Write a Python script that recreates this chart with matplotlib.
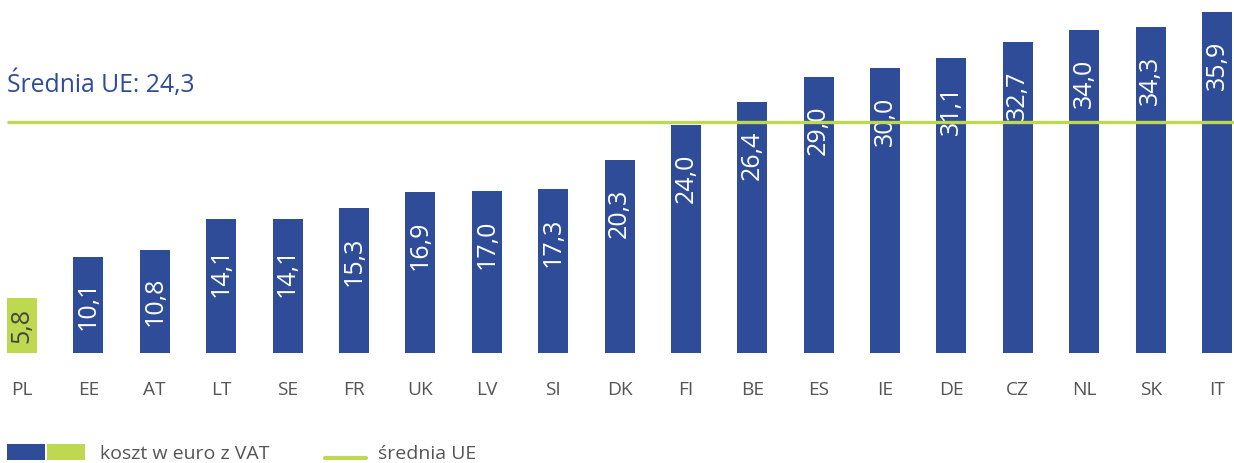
import matplotlib
matplotlib.use("Agg")
import matplotlib.pyplot as plt
from matplotlib.patches import Rectangle
from matplotlib.lines import Line2D

countries = ["PL", "EE", "AT", "LT", "SE", "FR", "UK", "LV", "SI", "DK",
             "FI", "BE", "ES", "IE", "DE", "CZ", "NL", "SK", "IT"]
values = [5.8, 10.1, 10.8, 14.1, 14.1, 15.3, 16.9, 17.0, 17.3, 20.3,
          24.0, 26.4, 29.0, 30.0, 31.1, 32.7, 34.0, 34.3, 35.9]
eu_mean = 24.3
highlight = "PL"
mean_label = "Średnia UE: 24,3"
legend_bar_label = "koszt w euro z VAT"
legend_line_label = "średnia UE"

BLUE = "#2E4C98"
GREEN = "#BED850"
GRAY = "#555555"
FONT = ["Open Sans", "DejaVu Sans"]
plt.rcParams['font.family'] = FONT

W, H = 1234, 463
fig = plt.figure(figsize=(W / 100, H / 100), dpi=100)
ax_bottom_px = 353
ax = fig.add_axes([0, (H - ax_bottom_px) / H, 1, ax_bottom_px / H])

px_per_unit = 9.5
spacing = 66.39
x0 = 22
bar_w = 30 / spacing
ax.set_xlim(-x0 / spacing, (W - x0) / spacing)
ax.set_ylim(0, ax_bottom_px / px_per_unit)

xs = list(range(len(countries)))
colors = [GREEN if c == highlight else BLUE for c in countries]
ax.bar(xs, values, width=bar_w, color=colors, linewidth=0, zorder=2)

for x, v, c in zip(xs, values, countries):
    yc = max(v - 5.6, v / 2)
    ax.text(x, yc, f"{v:.1f}".replace(".", ","), rotation=90,
            ha="center", va="center", fontsize=18,
            color="#444444" if c == highlight else "white", zorder=3)

ax.hlines(eu_mean, -bar_w / 2, ax.get_xlim()[1], color=GREEN, linewidth=2.4, zorder=4)
ax.annotate(mean_label, xy=(-bar_w / 2, eu_mean), xytext=(0, 22),
            textcoords="offset points", ha="left", va="baseline",
            fontsize=17.8, color=BLUE)

ax.set_xticks(xs)
ax.set_xticklabels(countries, fontsize=13.8, color=GRAY)
ax.tick_params(axis="x", length=0, pad=20)
ax.set_yticks([])
for s in ax.spines.values():
    s.set_visible(False)

def fx(px):
    return px / W

def fy(py):
    return (H - py) / H

fig.add_artist(Rectangle((fx(7), fy(460)), 38 / W, 16 / H, transform=fig.transFigure,
                         facecolor=BLUE, edgecolor="none"))
fig.add_artist(Rectangle((fx(47), fy(460)), 38 / W, 16 / H, transform=fig.transFigure,
                         facecolor=GREEN, edgecolor="none"))
fig.text(fx(100), fy(454), legend_bar_label, fontsize=14, color=GRAY, va="center", ha="left")
fig.add_artist(Line2D([fx(325), fx(366)], [fy(457.5), fy(457.5)], transform=fig.transFigure,
                      color=GREEN, linewidth=3, solid_capstyle="round"))
fig.text(fx(378), fy(454), legend_line_label, fontsize=14, color=GRAY, va="center", ha="left")

fig.savefig("out.png", dpi=100)
